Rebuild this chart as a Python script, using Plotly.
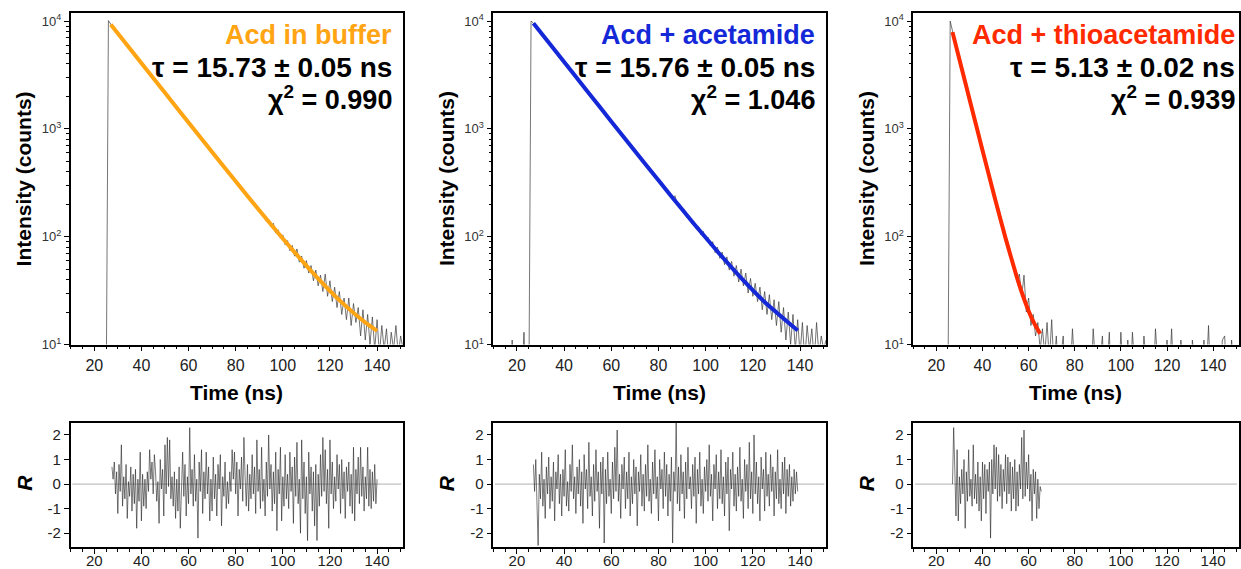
import plotly.graph_objects as go

FONT = "Liberation Sans, Arial, Helvetica, sans-serif"
W, H = 1241, 569

# ---------------- data ----------------
time_ns = list(range(10, 152))  # 1 ns bins, 10..151

decay_buffer = [3, 2, 4, 2, 3, 1, 2, 3, 2, 4, 3, 2, 3, 2, 3, 2,
                10100,
                9320, 8690, 8220, 7650, 7240, 6730, 6380, 5930, 5620, 5220,
                4950, 4600, 4370, 4050, 3840, 3560, 3390, 3140, 2990, 2760,
                2630, 2440, 2310, 2170, 2010, 1920, 1780, 1690, 1560, 1490,
                1370, 1310, 1210, 1160, 1070, 1020, 940, 900, 830, 795,
                730, 700, 650, 612, 575, 540, 505, 482, 445, 420,
                392, 372, 345,
                330, 298, 296, 265, 258, 232, 236, 203, 205, 182,
                184, 160, 162, 138, 145, 124, 133, 108, 116, 97,
                104, 84, 92, 74, 83, 66, 77, 58, 66, 51,
                60, 46, 54, 39, 49, 35, 44, 31, 45, 28,
                39, 25, 34, 22, 31, 19, 27, 17, 27, 15,
                24, 16, 22, 12, 21, 11, 19, 10, 18, 9,
                17, 8, 15, 9, 14, 7, 13, 9, 15, 8,
                12, 9]

decay_acetamide = [2, 3, 1, 2, 4, 3, 2, 3, 11, 2, 3, 2, 4, 13, 3, 2,
                   10000,
                   9580, 8940, 8420, 7860, 7430, 6920, 6540, 6090, 5770, 5360,
                   5090, 4720, 4490, 4160, 3950, 3660, 3480, 3230, 3070, 2840,
                   2700, 2510, 2370, 2230, 2070, 1970, 1830, 1740, 1600, 1530,
                   1410, 1350, 1240, 1190, 1100, 1050, 965, 925, 850, 815,
                   750, 720, 668, 630, 590, 556, 520, 495, 458, 432,
                   402, 383, 355,
                   336, 322, 290, 284, 255, 251, 226, 240, 198, 201,
                   172, 178, 152, 156, 133, 139, 118, 124, 104, 112,
                   93, 99, 82, 90, 71, 80, 63, 72, 55, 65,
                   49, 59, 43, 54, 38, 50, 35, 46, 30, 41,
                   28, 37, 25, 34, 21, 31, 19, 29, 17, 26,
                   15, 25, 13, 22, 11, 20, 10, 19, 9, 17,
                   8, 16, 7, 15, 9, 14, 7, 16, 8, 12,
                   9, 11]

decay_thio = [2, 1, 3, 2, 1, 2, 3, 1, 2, 2, 1, 3, 2, 1, 2, 3,
              10000,
              7850, 6550, 5300, 4420, 3600, 2990, 2440, 2030, 1650, 1380,
              1120, 940, 760, 640, 515, 435, 350, 300, 240, 206,
              165, 145, 113, 100, 80, 72, 56, 50,
              38, 45, 28, 44, 20, 27, 15, 19, 12, 16,
              9, 14, 8, 16, 7, 17, 6, 12, 5, 8,
              12, 4, 7, 5, 14, 6, 3, 7, 4, 9,
              3, 6, 4, 14, 5, 3, 7, 12, 4, 6,
              13, 3, 5, 8, 4, 13, 5, 3, 11, 4,
              13, 6, 3, 9, 4, 12, 5, 3, 7, 4,
              14, 5, 3, 8, 4, 11, 5, 14, 4, 6,
              3, 11, 5, 4, 8, 3, 11, 5, 4, 7,
              3, 11, 5, 15, 4, 6, 3, 8, 4, 11,
              12, 4, 3, 11, 5, 3, 6]

# fitted mono-exponential curves
fit_buffer_t = [27, 35, 45, 55, 65, 75, 85, 95, 105, 115, 125, 135, 140]
fit_buffer_v = [9300, 5595, 2965, 1573, 836, 446, 239, 129.5, 71.6, 40.9, 24.6, 16.0, 13.4]
fit_acet_t = [27, 35, 45, 55, 65, 75, 85, 95, 105, 115, 125, 135, 139]
fit_acet_v = [9560, 5740, 3040, 1610, 855, 455, 244, 132, 73, 41.5, 24.8, 16.0, 13.5]
fit_thio_t = [27, 30, 35, 40, 45, 50, 55, 57.5, 60, 62.5, 65]
fit_thio_v = [7900, 4406, 1668, 634, 244, 97, 41.4, 28.5, 20.5, 15.6, 12.6]

# weighted residuals (0.5 ns bins)
res_buffer_t0 = 27.5
res_buffer = [0.7, 0.2, 0.9, -0.4, 0.5, -1.2, 0.8, -0.3, 1.6, -0.9, 0.3, -0.6, 0.8, -1.4, 0.1, -0.5, 0.7, -1.1, 0.4, -0.8,
              0.6, -1.8, 0.2, -0.7, 1.3, -1.5, 0.4, -0.9, 0.2, -1.0, 0.5, -0.3, 1.4, 0.2, 0.9, -0.4, 1.2, 0.5, -0.7, 0.1,
              -1.6, 1.0, -0.2, 0.6, -1.3, 1.6, -0.4, 1.9, -0.1, 1.8, -0.6, 0.3, -0.9, 0.5, -1.4, 0.2, -1.1, 0.7, -1.8, 0.4,
              1.3, -0.5, 0.8, -1.3, 0.3, -0.8, 2.3, -0.4, 0.6, -0.9, 1.2, -0.7, 0.2, -2.2, 0.9, -0.3, 1.4, -1.2, 0.5, -0.6,
              1.3, -0.4, 0.7, -1.5, 0.2, -1.1, 1.1, -0.6, 0.4, -1.3, 0.8, -0.2, 1.2, -1.7, 0.3, -0.5, 0.9, -1.0, 0.1, -0.8,
              0.5, -0.3, 1.4, 0.2, 1.3, -0.4, 0.9, -1.3, 0.6, -0.2, 1.1, -0.7, 1.9, 0.3, -0.9, 0.8, -1.1, 0.4, -0.6, 1.2,
              -0.4, 0.7, -1.2, 1.8, -0.3, 0.6, -1.0, 1.5, -0.7, 0.2, -1.3, 0.9, -0.5, 2.0, -0.2, 0.8, -1.1, 0.5, -0.8, 1.3,
              -1.9, 0.6, -0.4, 1.5, -1.5, 0.3, -0.9, 1.2, -0.6, 0.4, -1.0, 1.3, -0.3, 0.7, -1.6, 1.1, -0.5, 1.7, -0.8, 0.2,
              -2.0, 1.8, -0.6, 0.9, -1.2, 0.3, -2.3, 1.3, -0.4, 0.7, -1.1, 0.5, -1.7, 0.8, -2.3, 0.4, -0.9, 1.2, -0.5, 1.9,
              -0.3, 1.4, -0.8, 0.6, -1.8, 1.8, -0.4, 0.9, -1.0, 0.3, -0.7, 1.2, -0.2, 0.8, -1.2, 1.0, -0.6, 0.5, -1.4, 0.7,
              -0.3, 0.9, -0.9, 0.4, -1.2, 1.5, -1.5, 0.6, -0.4, 1.1, -0.8, 1.5, -0.5, 0.7, -1.1, 0.3, -0.6, 1.5, -0.9, 0.6,
              -1.0, 0.5, -0.7, 0.8, -0.8, 0.2]
res_acet_t0 = 27.0
res_acet = [0.8, -0.3, 1.0, -1.2, -2.5, 0.4, -0.6, 1.3, -0.9, 0.2, -1.4, 0.7, -0.4, 1.1, -1.0, 0.3, -0.7, 0.9, -1.5, 0.5,
            -0.2, 1.2, -0.8, 0.4, -1.3, 0.6, -0.5, 1.4, -0.9, 0.1, -1.1, 0.8, -0.3, 1.6, -0.6, 0.3, -1.2, 0.7, -0.4, 1.0,
            -0.9, 0.5, -1.6, 1.2, -0.2, 0.6, -1.0, 1.7, -0.5, 0.3, -1.3, 0.8, -0.7, 1.4, -0.3, 0.5, -1.8, 0.9, -0.4, 1.1,
            -2.4, 0.6, -0.8, 1.3, -0.5, 0.2, -1.2, 0.9, -0.6, 1.5, -0.3, 2.2, -0.7, 0.4, -1.4, 0.8, -0.2, 1.1, -1.0, 0.5,
            -0.6, 1.3, -1.3, 0.3, -0.8, 1.0, -0.4, 0.7, -1.7, 0.5, -0.3, 1.2, -0.9, 0.4, -1.1, 0.8, -0.5, 1.6, -0.7, 0.2,
            -1.2, 0.9, -0.4, 1.4, -0.6, 0.3, -1.5, 1.0, -0.2, 0.6, -1.0, 1.3, -0.5, 0.8, -1.3, 0.4, -0.7, 1.1, -2.4, 0.5,
            -0.3, 2.5, -0.8, 0.7, -1.1, 1.2, -0.4, 0.5, -1.4, 0.9, -0.6, 1.5, -0.2, 0.3, -1.0, 0.8, -0.5, 1.1, -1.6, 0.6,
            -0.4, 1.3, -0.9, 0.2, -1.2, 0.7, -0.3, 1.0, -0.7, 1.6, -0.5, 0.4, -1.5, 0.8, -0.2, 1.2, -1.0, 0.5, -0.6, 1.4,
            -0.8, 0.3, -1.3, 0.9, -0.4, 1.1, -1.9, 0.6, -0.2, 1.3, -0.9, 0.4, -1.1, 0.7, -0.5, 1.5, -0.7, 0.2, -1.4, 1.0,
            -0.3, 0.8, -1.0, 1.7, -0.6, 0.5, -1.2, 2.0, -0.4, 0.9, -0.8, 0.3, -1.5, 1.1, -0.2, 0.6, -1.1, 1.3, -0.5, 0.4,
            -0.9, 1.2, -0.3, 0.7, -1.3, 0.5, -0.6, 1.4, -0.8, 0.2, -1.0, 0.9, -0.4, 1.1, -1.2, 0.6, -0.5, 0.8, -0.9, 0.3,
            -0.7, 0.6, -0.4, 0.5, -0.3]
res_thio_t0 = 27.0
res_thio = [0.0, 2.3, 0.6, -1.3, 1.4, -1.5, 0.3, -0.8, 0.6, -0.4, 1.0, -1.8, 0.5, -0.7, 1.4, -0.5, 0.2, -0.9, 1.6, -0.6,
            0.4, -0.8, 0.9, -1.1, 0.3, -1.5, 0.9, -0.6, 0.8, -1.2, 0.6, -0.3, 0.9, -2.2, 1.0, -0.4, 1.6, -0.2, 1.5, -0.7,
            1.2, -0.5, 0.8, -1.0, 0.6, -0.3, 1.2, -0.8, 1.1, -0.4, 0.9, -1.1, 0.7, -0.6, 1.0, -1.1, 0.5, -0.9, 0.8, -0.2,
            1.9, -0.6, 2.2, -0.5, 0.9, -0.2, 1.2, -0.7, 0.4, -1.5, 0.6, -0.4, 0.5, -1.4, 0.2, -1.0, -0.1, -0.3]

labels = ["Acd in buffer", "Acd + acetamide", "Acd + thioacetamide"]
tau_vals = ["15.73", "15.76", "5.13"]
tau_errs = ["0.05", "0.05", "0.02"]
chi_text = ["0.990", "1.046", "0.939"]
colors = ["#FFA412", "#1428D8", "#FF2A00"]

decays = [decay_buffer, decay_acetamide, decay_thio]
fits = [(fit_buffer_t, fit_buffer_v), (fit_acet_t, fit_acet_v), (fit_thio_t, fit_thio_v)]
resids = [(res_buffer_t0, res_buffer), (res_acet_t0, res_acet), (res_thio_t0, res_thio)]

# ---------------- layout geometry (pixels) ----------------
panel_x = [(70.7, 403.0), (493.3, 826.0), (913.3, 1238.5)]
top_y = (13.0, 344.5)
res_y = (422.7, 546.7)


def dom_x(a, b):
    return [a / W, b / W]


def dom_y(a, b):
    return [1 - b / H, 1 - a / H]


fig = go.Figure()
layout = dict(width=W, height=H, margin=dict(l=0, r=0, t=0, b=0),
              paper_bgcolor="white", plot_bgcolor="white", showlegend=False,
              font=dict(family=FONT, color="#222"))

minor_log = [m * 10 ** k for k in (1, 2, 3) for m in range(2, 10)]
annotations = []
shapes = []

for i in range(3):
    xi_top = i + 1
    xi_res = i + 4
    xs = "" if xi_top == 1 else str(xi_top)
    xr = str(xi_res)
    x0, x1 = panel_x[i]

    # decay data
    fig.add_trace(go.Scatter(x=time_ns, y=decays[i], mode="lines",
                             line=dict(color="#3a3a3a", width=0.7),
                             xaxis="x" + xs, yaxis="y" + xs, hoverinfo="skip"))
    # fit
    fig.add_trace(go.Scatter(x=fits[i][0], y=fits[i][1], mode="lines",
                             line=dict(color=colors[i], width=4, shape="spline", smoothing=0.6),
                             xaxis="x" + xs, yaxis="y" + xs))
    # residuals
    t0, rv = resids[i]
    rt = [t0 + 0.5 * k for k in range(len(rv))]
    fig.add_trace(go.Scatter(x=rt, y=rv, mode="lines",
                             line=dict(color="#222", width=0.6),
                             xaxis="x" + xr, yaxis="y" + xr, hoverinfo="skip"))

    common_x = dict(range=[10, 151], showline=True, linecolor="black", linewidth=1.6,
                    mirror=True, ticks="outside", ticklen=5, tickwidth=1.3, tickcolor="black",
                    tickmode="linear", tick0=0, dtick=20, showgrid=False, zeroline=False,
                    minor=dict(dtick=5, tick0=0, ticks="outside", ticklen=3, tickwidth=1.1,
                               tickcolor="black", showgrid=False),
                    automargin=False)

    layout["xaxis" + xs] = dict(common_x, domain=dom_x(x0, x1), anchor="y" + xs,
                                tickfont=dict(family=FONT, size=16, color="#222"))
    layout["yaxis" + xs] = dict(type="log", range=[1, 4.075], domain=dom_y(*top_y),
                                anchor="x" + xs, showline=True, linecolor="black", linewidth=1.6,
                                mirror=True, ticks="outside", ticklen=5, tickwidth=1.3,
                                tickcolor="black", tickmode="array",
                                tickvals=[10, 100, 1000, 10000],
                                ticktext=["10<sup>1</sup>", "10<sup>2</sup>", "10<sup>3</sup>", "10<sup>4</sup>"],
                                minor=dict(tickmode="array", tickvals=minor_log, ticks="outside",
                                           ticklen=3, tickwidth=1.0, tickcolor="black", showgrid=False),
                                showgrid=False, zeroline=False,
                                tickfont=dict(family=FONT, size=13, color="#333"), automargin=False)

    layout["xaxis" + xr] = dict(common_x, domain=dom_x(x0, x1), anchor="y" + xr,
                                tickfont=dict(family=FONT, size=15, color="#222"),
                                ticklabelstandoff=-6)
    layout["yaxis" + xr] = dict(range=[-2.55, 2.5], domain=dom_y(*res_y), anchor="x" + xr,
                                showline=True, linecolor="black", linewidth=1.6, mirror=True,
                                ticks="outside", ticklen=5, tickwidth=1.3, tickcolor="black",
                                tickmode="array", tickvals=[-2, -1, 0, 1, 2],
                                ticktext=["-2", "-1", "0", "1", "2"],
                                showgrid=False, zeroline=False,
                                tickfont=dict(family=FONT, size=15, color="#222"), automargin=False)

    # zero baseline of the residuals
    shapes.append(dict(type="line", xref="x" + xr + " domain", yref="y" + xr,
                       x0=0.005, x1=0.995, y0=0, y1=0,
                       line=dict(color="#b0b0b0", width=1), layer="below"))

    # panel texts
    xr_text = (x1 - 9) / W if i < 2 else (x1 - 2) / W
    tau_line = "<b>τ = %s ± %s ns</b>" % (tau_vals[i], tau_errs[i])
    chi_line = "<b>χ<sup>2</sup> = %s</b>" % chi_text[i]
    annotations.append(dict(text="<b>%s</b>" % labels[i], x=xr_text, y=1 - 35 / H,
                            xref="paper", yref="paper", xanchor="right", yanchor="middle",
                            showarrow=False, font=dict(family=FONT, size=27, color=colors[i])))
    annotations.append(dict(text=tau_line, x=xr_text, y=1 - 67 / H,
                            xref="paper", yref="paper", xanchor="right", yanchor="middle",
                            showarrow=False, font=dict(family=FONT, size=28, color="black")))
    annotations.append(dict(text=chi_line, x=xr_text, y=1 - 98 / H,
                            xref="paper", yref="paper", xanchor="right", yanchor="middle",
                            showarrow=False, font=dict(family=FONT, size=27, color="black")))

    # axis titles
    annotations.append(dict(text="<b>Time (ns)</b>", x=(x0 + x1) / 2 / W, y=1 - 392 / H,
                            xref="paper", yref="paper", xanchor="center", yanchor="middle",
                            showarrow=False, font=dict(family=FONT, size=21, color="black")))
    annotations.append(dict(text="<b>Intensity (counts)</b>", x=(x0 - 47) / W,
                            y=1 - (top_y[0] + top_y[1]) / 2 / H, textangle=-90,
                            xref="paper", yref="paper", xanchor="center", yanchor="middle",
                            showarrow=False, font=dict(family=FONT, size=21, color="black")))
    annotations.append(dict(text="<b><i>R</i></b>", x=(x0 - 47) / W, y=1 - 483 / H, textangle=-90,
                            xref="paper", yref="paper", xanchor="center", yanchor="middle",
                            showarrow=False, font=dict(family=FONT, size=21, color="black")))

layout["annotations"] = annotations
layout["shapes"] = shapes
fig.update_layout(**layout)
fig.write_html("out.html")
